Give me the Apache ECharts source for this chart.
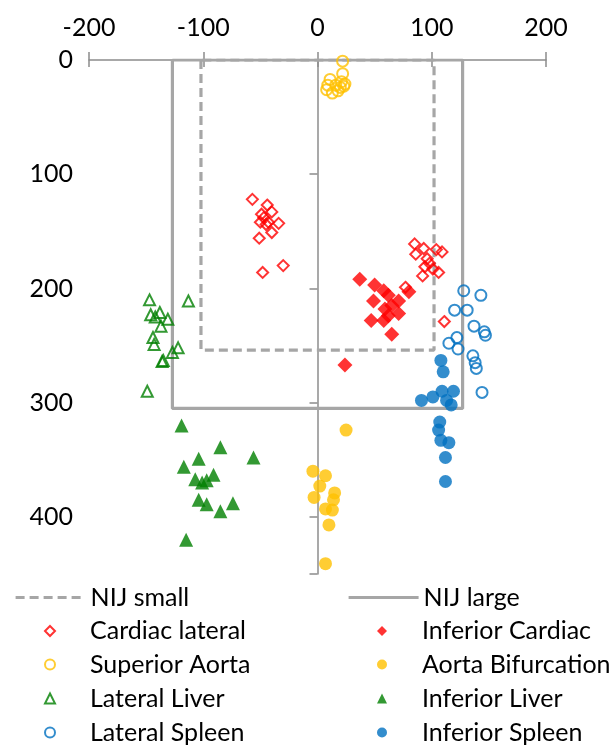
<!DOCTYPE html>
<html>
<head>
<meta charset="utf-8">
<script src="https://cdn.jsdelivr.net/npm/echarts@6/dist/echarts.min.js"></script>
<style>html,body{margin:0;padding:0;background:#fff;}#c{width:611px;height:747px;}</style>
</head>
<body>
<div id="c"></div>
<script>
const xTicks = [-200, -100, 0, 100, 200];
const yTicks = [0, 100, 200, 300, 400];

const nijSmall = [[-102, 0], [-102, 254], [102, 254], [102, 0], [-102, 0]];
const nijLarge = [[-127, 0], [-127, 305], [127, 305], [127, 0], [-127, 0]];

const cardiacLateral = [[-57,122],[-44,127],[-40,133],[-49,135],[-47,138],[-50,142],[-43,142],[-34,143],[-45,144],[-40,151],[-51,156],[-30,180],[-48,186],
  [85,161],[93,165],[86,170],[104,166],[109,168],[96,174],[98,178],[94,181],[101,183],[106,186],[92,189],[77,199],[111,229]];
const superiorAorta = [[22,1],[22,12],[11,17],[21,19],[24,21],[9,22],[16,22],[20,24],[8,26],[13,29],[18,27],[23,23]];
const lateralLiver = [[-147,210],[-113,211],[-146,223],[-138,221],[-142,225],[-131,227],[-137,233],[-144,243],[-143,249],[-122,252],[-127,256],[-136,264],[-135,263],[-149,290]];
const lateralSpleen = [[128,202],[143,206],[120,219],[131,219],[137,233],[146,238],[147,241],[122,243],[115,248],[123,253],[136,259],[138,265],[139,270],[144,291]];
const inferiorCardiac = [[37,192],[50,197],[58,202],[62,206],[71,211],[49,211],[65,215],[59,218],[71,222],[62,224],[47,228],[58,228],[65,240],[24,267],[80,203]];
const aortaBifurcation = [[25,324],[-4,360],[7,364],[2,373],[15,379],[-3,383],[14,385],[7,393],[13,394],[10,407],[7,441]];
const inferiorLiver = [[-119,320],[-85,339],[-104,349],[-56,348],[-117,356],[-91,363],[-107,367],[-101,370],[-97,368],[-104,385],[-97,389],[-74,388],[-85,395],[-115,420]];
const inferiorSpleen = [[108,263],[110,273],[91,298],[101,295],[109,290],[119,290],[113,298],[117,302],[107,317],[106,324],[108,333],[115,335],[112,348],[112,369]];

const legendCol1 = ['NIJ small', 'Cardiac lateral', 'Superior Aorta', 'Lateral Liver', 'Lateral Spleen'];
const legendCol2 = ['NIJ large', 'Inferior Cardiac', 'Aorta Bifurcation', 'Inferior Liver', 'Inferior Spleen'];

const FONT = 'Lato';
const RED = '#FF0000', ORANGE = '#FFC000', GREEN = '#008000', BLUE = '#0070C0', GRAY = '#A6A6A6';

function hollow(name, data, symbol, color, size) {
  return { name, type: 'scatter', data, symbol, symbolSize: size, z: 5,
    itemStyle: { color: 'rgba(255,255,255,0)', borderColor: color, borderWidth: 2 } };
}
function filled(name, data, symbol, color, size) {
  return { name, type: 'scatter', data, symbol, symbolSize: size, z: 5, itemStyle: { color } };
}

const rowCenters = [597, 630.5, 664, 698, 732];
const legends = [];
function addLegendColumn(names, lineLeft) {
  names.forEach((name, i) => {
    const isLine = i === 0;
    const iw = isLine ? 70 : 10;
    legends.push({
      orient: 'horizontal', padding: 0, selectedMode: false,
      left: isLine ? lineLeft : lineLeft + 30, top: rowCenters[i] - 12,
      itemWidth: iw, itemHeight: 10, symbolKeepAspect: true,
      lineStyle: { width: 3.2 },
      textStyle: { fontFamily: FONT, fontSize: 25, color: '#000', lineHeight: 24,
        padding: isLine ? 0 : [0, 0, 0, 30] },
      data: [isLine ? { name: name, lineStyle: { width: 3.2 } } : name]
    });
  });
}
addLegendColumn(legendCol1, 14);
addLegendColumn(legendCol2, 347);

const chart = echarts.init(document.getElementById('c'), null, { renderer: 'canvas' });
chart.setOption({
  animation: false,
  grid: { left: 89, right: 65, top: 60, bottom: 173, containLabel: false },
  xAxis: [
    { type: 'value', position: 'top', min: -200, max: 200, interval: 100,
      axisLine: { show: true, lineStyle: { color: '#8C8C8C', width: 1.5 } },
      axisTick: { show: true, inside: false, length: 8, lineStyle: { color: '#8C8C8C', width: 1.5 } },
      axisLabel: { fontFamily: FONT, fontSize: 25, color: '#000', margin: 20,
        formatter: v => xTicks.includes(v) ? String(v) : '' },
      splitLine: { show: false } },
    { type: 'value', position: 'top', min: -200, max: 200, interval: 100,
      axisLine: { show: false },
      axisTick: { show: true, inside: true, length: 7, lineStyle: { color: '#8C8C8C', width: 1.5 } },
      axisLabel: { show: false }, splitLine: { show: false } }
  ],
  yAxis: { type: 'value', inverse: true, min: 0, max: 450, interval: 100,
    axisLine: { show: true, onZero: true, lineStyle: { color: '#8C8C8C', width: 1.5 } },
    axisTick: { show: true, length: 8, lineStyle: { color: '#8C8C8C', width: 1.5 } },
    axisLabel: { fontFamily: FONT, fontSize: 25, color: '#000', margin: 16,
      formatter: v => yTicks.includes(v) ? String(v) : '' },
    splitLine: { show: false } },
  legend: legends,
  series: [
    { name: 'NIJ small', type: 'line', data: nijSmall, symbol: 'none', z: 2,
      lineStyle: { color: GRAY, width: 3.2, type: [9, 5] }, itemStyle: { color: 'rgba(0,0,0,0)', borderWidth: 0 } },
    { name: 'NIJ large', type: 'line', data: nijLarge, symbol: 'none', z: 2,
      lineStyle: { color: GRAY, width: 3.2 }, itemStyle: { color: 'rgba(0,0,0,0)', borderWidth: 0 } },
    hollow('Cardiac lateral', cardiacLateral, 'diamond', RED, 11),
    filled('Inferior Cardiac', inferiorCardiac, 'diamond', RED, 15),
    hollow('Superior Aorta', superiorAorta, 'circle', ORANGE, 11),
    filled('Aorta Bifurcation', aortaBifurcation, 'circle', ORANGE, 13),
    hollow('Lateral Liver', lateralLiver, 'triangle', GREEN, 11),
    filled('Inferior Liver', inferiorLiver, 'triangle', GREEN, 14),
    hollow('Lateral Spleen', lateralSpleen, 'circle', BLUE, 11),
    filled('Inferior Spleen', inferiorSpleen, 'circle', BLUE, 13)
  ]
});
</script>
</body>
</html>
